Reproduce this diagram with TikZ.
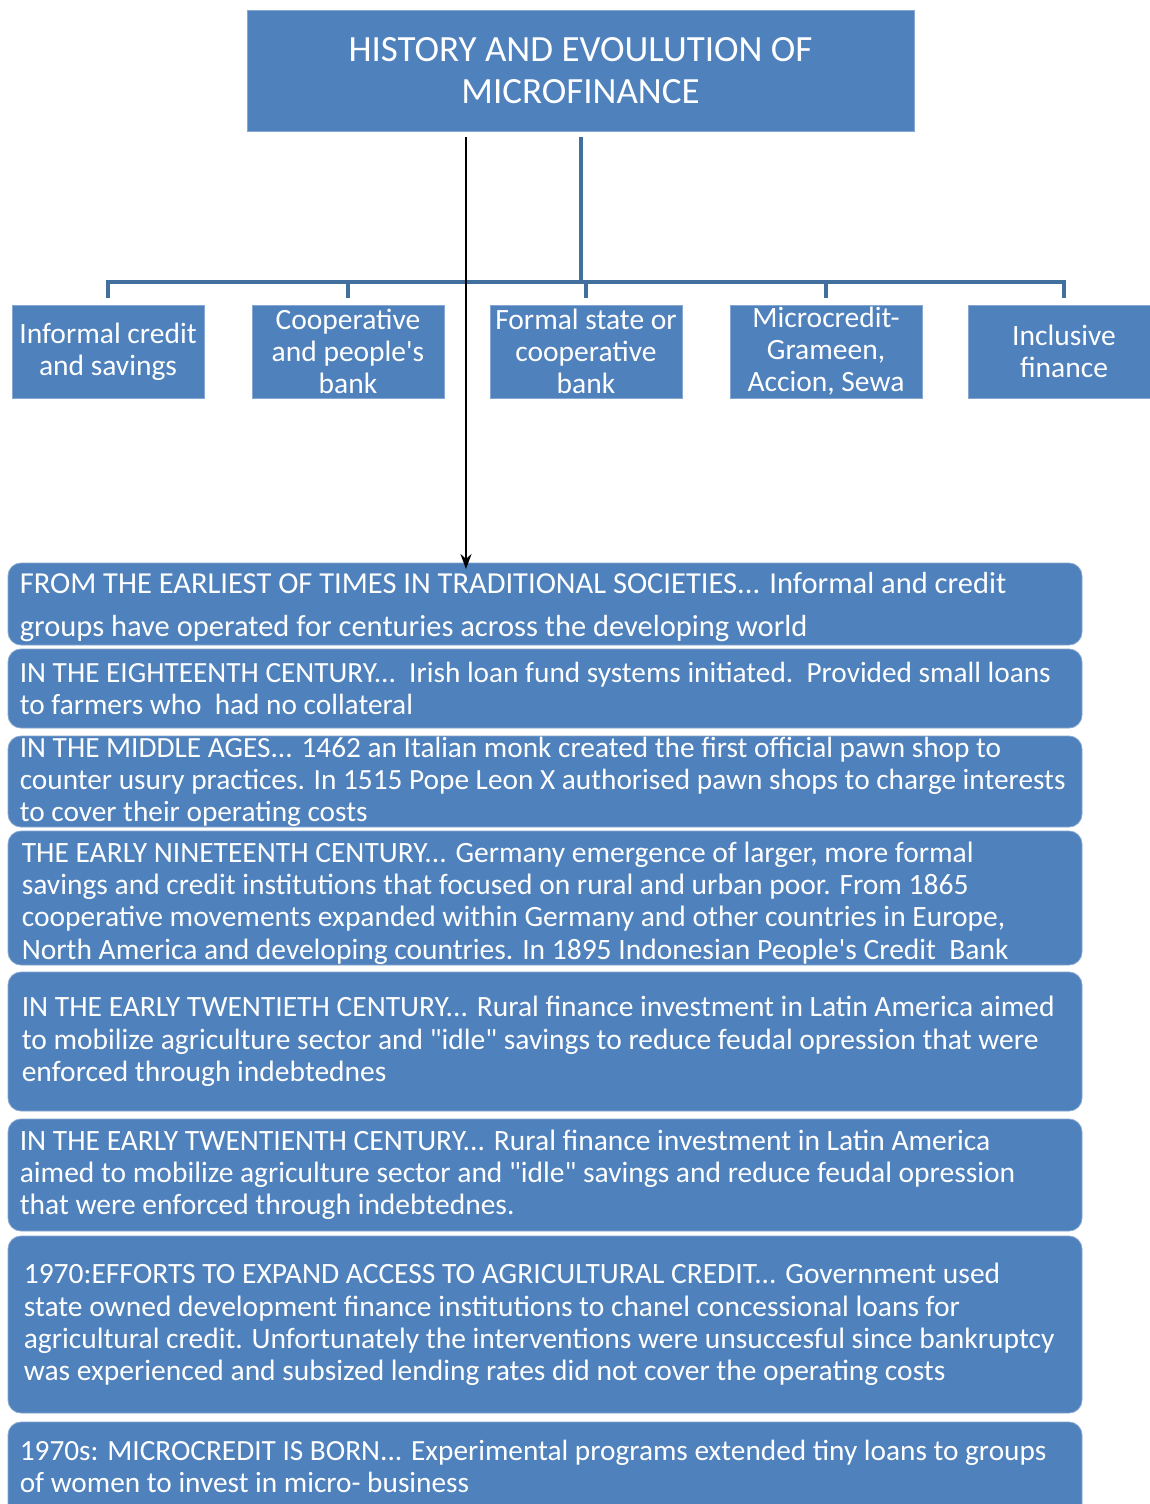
\documentclass[tikz,border=0pt]{standalone}
\usepackage{fontspec}
\setmainfont{Carlito}[Ligatures=TeXOff]
\usetikzlibrary{arrows.meta}
\definecolor{boxblue}{HTML}{4F81BD}
\definecolor{connblue}{HTML}{41709F}
\definecolor{edgeblue}{HTML}{86A7D1}
\begin{document}
\begin{tikzpicture}[x=1pt,y=-1pt,
  titlebox/.style={rectangle,fill=boxblue,draw=edgeblue,line width=0.8pt,minimum width=667pt,minimum height=121pt,
     text=white,align=center,font=\fontsize{37}{42}\selectfont,inner sep=0pt},
  catbox/.style={rectangle,fill=boxblue,draw=edgeblue,line width=0.8pt,minimum width=192pt,minimum height=93pt,
     text=white,align=center,font=\fontsize{29.5}{32}\selectfont,inner sep=0pt},
  bigbox/.style={rectangle,rounded corners=13pt,fill=boxblue,draw=edgeblue,line width=0.8pt,minimum width=1074pt,inner sep=0pt},
  bigtext/.style={anchor=west,text=white,align=left,inner sep=0pt},
  conn/.style={draw=connblue,line width=4pt},
  blackarrow/.style={draw=black,line width=2pt,-{Stealth[length=15pt,width=11pt]}}
]
\useasboundingbox (0,0) rectangle (1150,1504);
\fill[white] (0,0) rectangle (1150,1504);

% title
\node[titlebox] (title) at (580.5,70.5) {HISTORY AND EVOULUTION OF\\MICROFINANCE};

% category boxes
\node[catbox] (c1) at (108,351.5) {Informal credit\\and savings};
\node[catbox] (c2) at (348,351.5) {Cooperative\\and people's\\bank};
\node[catbox] (c3) at (586,351.5) {Formal state or\\cooperative\\bank};
\node[catbox] (c4) at (826,351.5) {Microcredit-\\Grameen,\\Accion, Sewa};
\node[catbox] (c5) at (1064,351.5) {Inclusive\\finance};

% connectors
\coordinate (bar) at (580.5,282);
\coordinate (topstart) at (580.5,137);
\draw[conn] (topstart) -- (bar);
\draw[conn] ([yshift=7pt]c1.north) -- (c1.north |- bar) -- (c5.north |- bar) -- ([yshift=7pt]c5.north);
\draw[conn] ([yshift=7pt]c2.north) -- (c2.north |- bar);
\draw[conn] ([yshift=7pt]c3.north) -- (c3.north |- bar);
\draw[conn] ([yshift=7pt]c4.north) -- (c4.north |- bar);

% timeline boxes
\node[bigbox,minimum height=82pt] (t1) at (545,604) {};
\node[bigbox,minimum height=79pt] (t2) at (545,688.5) {};
\node[bigbox,minimum height=91pt] (t3) at (545,781.5) {};
\node[bigbox,minimum height=134pt] (t4) at (545,898) {};
\node[bigbox,minimum height=139pt] (t5) at (545,1041.5) {};
\node[bigbox,minimum height=112pt] (t6) at (545,1175) {};
\node[bigbox,minimum height=177pt] (t7) at (545,1324.5) {};
\node[bigbox,minimum height=100pt] (t8) at (545,1472) {};

\node[bigtext,font=\fontsize{30.5}{43}\selectfont] (x1) at ([xshift=12pt,yshift=-3pt]t1.west)
 {FROM THE EARLIEST OF TIMES IN TRADITIONAL SOCIETIES... Informal and credit\\groups have operated for centuries across the developing world};
\node[bigtext,font=\fontsize{29.3}{32}\selectfont] (x2) at ([xshift=12pt]t2.west)
 {IN THE EIGHTEENTH CENTURY...\ \ Irish loan fund systems initiated.\ \ Provided small loans\\to farmers who\ \ had no collateral};
\node[bigtext,font=\fontsize{29.3}{32}\selectfont] (x3) at ([xshift=12pt]t3.west)
 {IN THE MIDDLE AGES... 1462 an Italian monk created the first official pawn shop to\\counter usury practices. In 1515 Pope Leon X authorised pawn shops to charge interests\\to cover their operating costs};
\node[bigtext,font=\fontsize{29.5}{32.3}\selectfont] (x4) at ([xshift=14pt,yshift=-5pt]t4.west)
 {THE EARLY NINETEENTH CENTURY... Germany emergence of larger, more formal\\savings and credit institutions that focused on rural and urban poor. From 1865\\cooperative movements expanded within Germany and other countries in Europe,\\North America and developing countries. In 1895 Indonesian People's Credit\ \ Bank};
\node[bigtext,font=\fontsize{29.5}{32.5}\selectfont] (x5) at ([xshift=14pt]t5.west)
 {IN THE EARLY TWENTIETH CENTURY... Rural finance investment in Latin America aimed\\to mobilize agriculture sector and "idle" savings to reduce feudal opression that were\\enforced through indebtednes};
\node[bigtext,font=\fontsize{29.5}{32}\selectfont] (x6) at ([xshift=12pt]t6.west)
 {IN THE EARLY TWENTIENTH CENTURY... Rural finance investment in Latin America\\aimed to mobilize agriculture sector and "idle" savings and reduce feudal opression\\that were enforced through indebtednes.};
\node[bigtext,font=\fontsize{29.5}{32.3}\selectfont] (x7) at ([xshift=16pt]t7.west)
 {1970:EFFORTS TO EXPAND ACCESS TO AGRICULTURAL CREDIT... Government used\\state owned development finance institutions to chanel concessional loans for\\agricultural credit. Unfortunately the interventions were unsuccesful since bankruptcy\\was experienced and subsized lending rates did not cover the operating costs};
\node[bigtext,font=\fontsize{29.3}{32}\selectfont] (x8) at ([xshift=12pt,yshift=6pt]t8.west)
 {1970s: MICROCREDIT IS BORN... Experimental programs extended tiny loans to groups\\of women to invest in micro- business};

% black arrow
\coordinate (arrowstart) at (466,137);
\coordinate (arrowend) at (466,569);
\draw[blackarrow] (arrowstart) -- (arrowend);
\end{tikzpicture}
\end{document}
